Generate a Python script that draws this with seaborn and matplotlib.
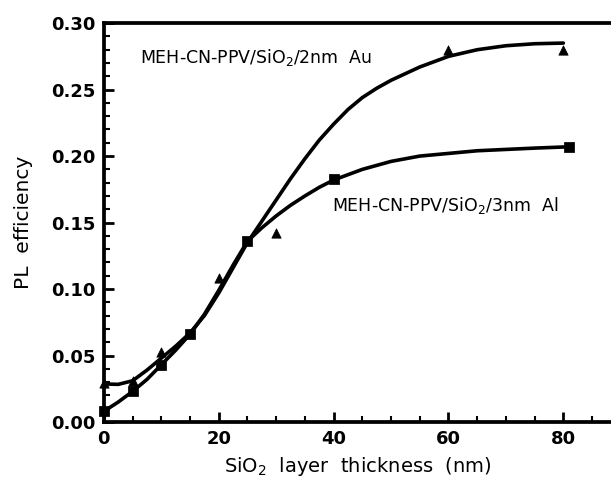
import numpy as np
import pandas as pd
import matplotlib
matplotlib.use("Agg")
import matplotlib.pyplot as plt
from matplotlib.ticker import MultipleLocator, FormatStrFormatter
import seaborn as sns

# measured points
au_x = [0, 5, 10, 20, 30, 60, 80]
au_y = [0.029, 0.031, 0.053, 0.108, 0.142, 0.280, 0.280]
al_x = [0, 5, 10, 15, 25, 40, 81]
al_y = [0.008, 0.023, 0.043, 0.066, 0.136, 0.183, 0.207]

# fitted curves
au_fit_x = [0, 2.5, 5, 7.5, 10, 12.5, 15, 17.5, 20, 22.5, 25, 27.5, 30, 32.5, 35, 37.5, 40,
            42.5, 45, 47.5, 50, 52.5, 55, 57.5, 60, 65, 70, 75, 80]
au_fit_y = [0.0286, 0.0283, 0.031, 0.039, 0.048, 0.057, 0.067, 0.080, 0.097, 0.116, 0.135, 0.151, 0.167, 0.183,
            0.198, 0.212, 0.224, 0.235, 0.244, 0.251, 0.257, 0.262, 0.267, 0.271, 0.275, 0.280, 0.283, 0.2845, 0.285]
al_fit_x = [0, 2.5, 5, 7.5, 10, 12.5, 15, 17.5, 20, 22.5, 25, 27.5, 30, 32.5, 35, 37.5, 40,
            45, 50, 55, 60, 65, 70, 75, 81]
al_fit_y = [0.008, 0.015, 0.023, 0.032, 0.043, 0.054, 0.066, 0.081, 0.099, 0.118, 0.136, 0.146, 0.155, 0.163,
            0.170, 0.1765, 0.182, 0.190, 0.196, 0.200, 0.202, 0.204, 0.205, 0.206, 0.207]

sns.set_style("ticks")
plt.rcParams['font.family'] = ['DejaVu Sans']
plt.rcParams['mathtext.fontset'] = 'dejavusans'

fig = plt.figure(figsize=(6.11, 4.87), dpi=100)
ax = fig.add_axes([0.170, 0.1335, 0.830, 0.819])

au_fit = pd.DataFrame({'x': au_fit_x, 'y': au_fit_y})
al_fit = pd.DataFrame({'x': al_fit_x, 'y': al_fit_y})
sns.lineplot(data=au_fit, x='x', y='y', color='black', linewidth=2.6, ax=ax)
sns.lineplot(data=al_fit, x='x', y='y', color='black', linewidth=2.6, ax=ax)

au_pts = pd.DataFrame({'x': au_x, 'y': au_y})
al_pts = pd.DataFrame({'x': al_x, 'y': al_y})
sns.scatterplot(data=au_pts, x='x', y='y', marker='^', s=45, color='black', edgecolor='black', ax=ax, zorder=3, clip_on=False)
sns.scatterplot(data=al_pts, x='x', y='y', marker='s', s=45, color='black', edgecolor='black', ax=ax, zorder=3, clip_on=False)

ax.text(6.3, 0.274, 'MEH-CN-PPV/SiO$_2$/2nm  Au', fontsize=12.5, va='center', ha='left', color='black')
ax.text(39.7, 0.163, 'MEH-CN-PPV/SiO$_2$/3nm  Al', fontsize=12.5, va='center', ha='left', color='black')

ax.set_xlim(0, 88.3)
ax.set_ylim(0, 0.30)
ax.xaxis.set_major_locator(MultipleLocator(20))
ax.xaxis.set_minor_locator(MultipleLocator(5))
ax.yaxis.set_major_locator(MultipleLocator(0.05))
ax.yaxis.set_minor_locator(MultipleLocator(0.01))
ax.yaxis.set_major_formatter(FormatStrFormatter('%.2f'))
ax.tick_params(which='major', direction='in', length=7, width=2, labelsize=13, pad=6,
               color='black', labelcolor='black')
ax.tick_params(which='minor', direction='in', length=4, width=1.5, color='black')
for lab in ax.get_xticklabels() + ax.get_yticklabels():
    lab.set_fontweight('bold')

ax.spines['right'].set_visible(False)
for side in ['left', 'top', 'bottom']:
    ax.spines[side].set_linewidth(2.7)
    ax.spines[side].set_color('black')

ax.set_xlabel('SiO$_2$  layer  thickness  (nm)', fontsize=14, labelpad=5, color='black')
ax.set_ylabel('PL  efficiency', fontsize=14.5, labelpad=13, color='black')

fig.savefig('out.png', dpi=100)
